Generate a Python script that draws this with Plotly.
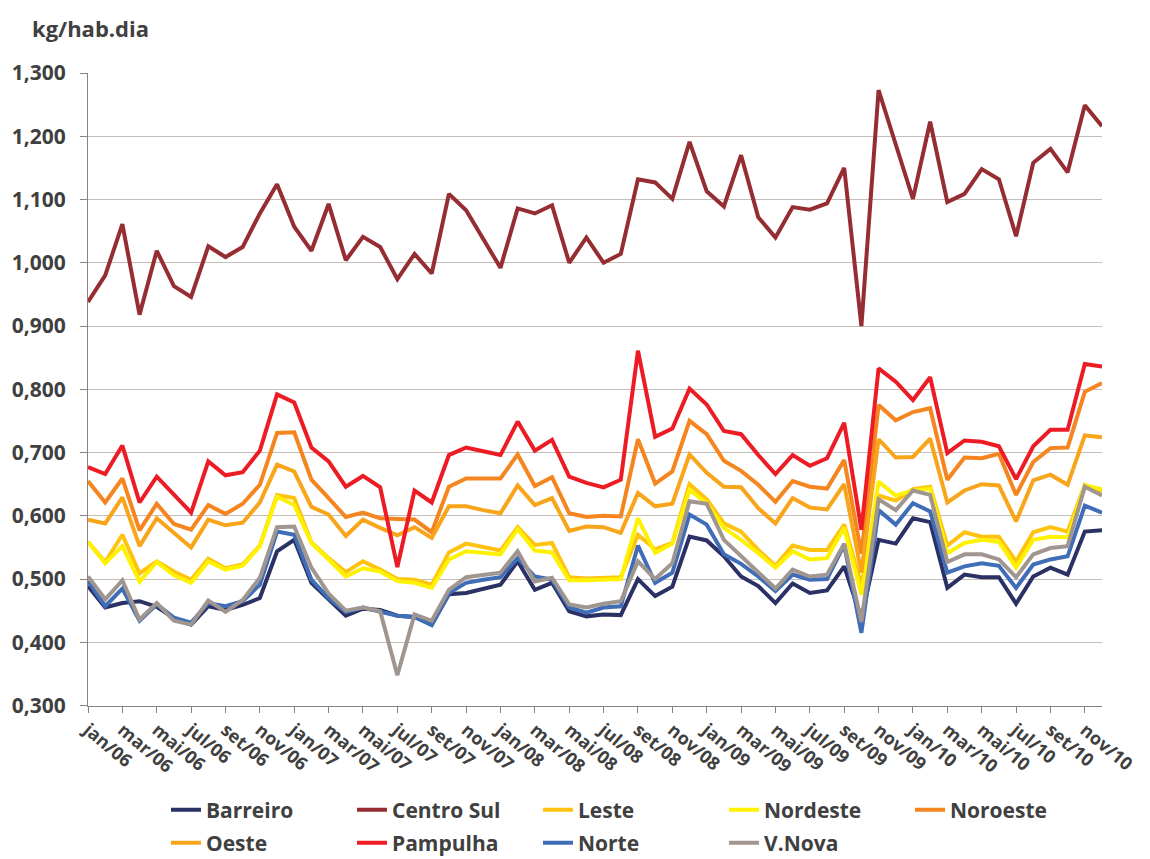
import plotly.graph_objects as go

# Monthly series, jan/2006 - dez/2010 (kg/hab.dia)
month_abbr = ["jan", "fev", "mar", "abr", "mai", "jun",
              "jul", "ago", "set", "out", "nov", "dez"]
years = ["06", "07", "08", "09", "10"]
months = [f"{m}/{y}" for y in years for m in month_abbr]

barreiro = [0.489, 0.455, 0.462, 0.465, 0.456, 0.438, 0.428, 0.457, 0.451, 0.459, 0.470, 0.544,
            0.562, 0.494, 0.468, 0.442, 0.453, 0.451, 0.442, 0.440, 0.428, 0.476, 0.478, 0.485,
            0.491, 0.528, 0.483, 0.494, 0.449, 0.441, 0.444, 0.443, 0.500, 0.473, 0.488, 0.567,
            0.561, 0.536, 0.504, 0.489, 0.462, 0.493, 0.478, 0.482, 0.520, 0.438, 0.562, 0.556,
            0.596, 0.590, 0.486, 0.507, 0.503, 0.503, 0.461, 0.504, 0.518, 0.507, 0.575, 0.577]

centro_sul = [0.938, 0.980, 1.061, 0.918, 1.019, 0.963, 0.946, 1.026, 1.009, 1.025, 1.078, 1.124,
              1.057, 1.019, 1.093, 1.004, 1.041, 1.025, 0.974, 1.014, 0.983, 1.109, 1.083, 1.037,
              0.992, 1.086, 1.078, 1.091, 1.000, 1.040, 1.000, 1.014, 1.132, 1.127, 1.101, 1.191,
              1.113, 1.089, 1.170, 1.072, 1.040, 1.088, 1.084, 1.094, 1.150, 0.900, 1.273, 1.187,
              1.101, 1.223, 1.096, 1.109, 1.148, 1.132, 1.042, 1.158, 1.180, 1.143, 1.249, 1.216]

leste = [0.559, 0.527, 0.570, 0.509, 0.528, 0.512, 0.499, 0.532, 0.517, 0.523, 0.553, 0.633,
         0.628, 0.558, 0.533, 0.511, 0.528, 0.515, 0.500, 0.499, 0.491, 0.542, 0.556, 0.550,
         0.545, 0.582, 0.554, 0.557, 0.503, 0.501, 0.502, 0.503, 0.570, 0.547, 0.557, 0.650,
         0.626, 0.588, 0.575, 0.546, 0.521, 0.553, 0.546, 0.546, 0.586, 0.490, 0.632, 0.624,
         0.642, 0.646, 0.553, 0.574, 0.567, 0.567, 0.528, 0.574, 0.582, 0.575, 0.649, 0.638]

nordeste = [0.559, 0.525, 0.552, 0.496, 0.527, 0.506, 0.494, 0.528, 0.515, 0.521, 0.552, 0.630,
            0.617, 0.557, 0.531, 0.504, 0.517, 0.512, 0.497, 0.494, 0.486, 0.531, 0.544, 0.542,
            0.539, 0.579, 0.545, 0.542, 0.498, 0.498, 0.499, 0.500, 0.596, 0.541, 0.556, 0.641,
            0.620, 0.581, 0.562, 0.541, 0.518, 0.544, 0.531, 0.533, 0.581, 0.475, 0.654, 0.632,
            0.640, 0.643, 0.541, 0.557, 0.562, 0.559, 0.518, 0.562, 0.567, 0.566, 0.648, 0.642]

noroeste = [0.655, 0.621, 0.659, 0.577, 0.619, 0.587, 0.578, 0.617, 0.603, 0.619, 0.649, 0.731,
            0.732, 0.657, 0.628, 0.598, 0.605, 0.596, 0.595, 0.594, 0.574, 0.646, 0.659, 0.659,
            0.659, 0.697, 0.647, 0.661, 0.604, 0.598, 0.600, 0.599, 0.721, 0.651, 0.670, 0.750,
            0.729, 0.687, 0.671, 0.649, 0.622, 0.655, 0.646, 0.643, 0.688, 0.540, 0.775, 0.751,
            0.764, 0.770, 0.657, 0.692, 0.691, 0.698, 0.633, 0.685, 0.707, 0.708, 0.796, 0.810]

oeste = [0.594, 0.588, 0.629, 0.552, 0.596, 0.573, 0.550, 0.594, 0.585, 0.589, 0.621, 0.681,
         0.670, 0.614, 0.602, 0.568, 0.594, 0.581, 0.569, 0.582, 0.565, 0.615, 0.615, 0.609,
         0.604, 0.648, 0.617, 0.628, 0.576, 0.583, 0.582, 0.573, 0.636, 0.615, 0.619, 0.697,
         0.668, 0.646, 0.645, 0.612, 0.588, 0.628, 0.613, 0.610, 0.650, 0.510, 0.721, 0.692,
         0.693, 0.722, 0.621, 0.640, 0.650, 0.648, 0.591, 0.656, 0.665, 0.649, 0.727, 0.724]

pampulha = [0.677, 0.666, 0.711, 0.621, 0.662, 0.634, 0.605, 0.686, 0.664, 0.669, 0.703, 0.792,
            0.779, 0.708, 0.686, 0.646, 0.663, 0.645, 0.519, 0.640, 0.621, 0.696, 0.708, 0.702,
            0.696, 0.749, 0.703, 0.720, 0.662, 0.652, 0.645, 0.657, 0.861, 0.725, 0.738, 0.801,
            0.776, 0.734, 0.729, 0.696, 0.666, 0.696, 0.679, 0.691, 0.747, 0.578, 0.833, 0.812,
            0.783, 0.819, 0.699, 0.719, 0.717, 0.710, 0.658, 0.710, 0.736, 0.736, 0.840, 0.836]

norte = [0.497, 0.457, 0.485, 0.434, 0.460, 0.439, 0.431, 0.462, 0.457, 0.465, 0.491, 0.575,
         0.570, 0.499, 0.470, 0.448, 0.455, 0.449, 0.442, 0.440, 0.427, 0.478, 0.494, 0.499,
         0.503, 0.533, 0.504, 0.499, 0.455, 0.447, 0.455, 0.457, 0.553, 0.494, 0.510, 0.602,
         0.586, 0.539, 0.524, 0.504, 0.481, 0.507, 0.499, 0.500, 0.554, 0.415, 0.609, 0.586,
         0.620, 0.607, 0.510, 0.520, 0.525, 0.521, 0.486, 0.523, 0.531, 0.536, 0.616, 0.605]

v_nova = [0.504, 0.468, 0.498, 0.436, 0.462, 0.434, 0.428, 0.466, 0.448, 0.467, 0.502, 0.582,
          0.583, 0.518, 0.477, 0.450, 0.455, 0.449, 0.348, 0.444, 0.434, 0.483, 0.503, 0.507,
          0.510, 0.544, 0.496, 0.502, 0.460, 0.455, 0.461, 0.465, 0.528, 0.500, 0.525, 0.623,
          0.619, 0.562, 0.536, 0.512, 0.485, 0.515, 0.504, 0.507, 0.556, 0.432, 0.626, 0.609,
          0.640, 0.633, 0.527, 0.539, 0.539, 0.531, 0.503, 0.539, 0.549, 0.552, 0.646, 0.632]

series = [
    ("Barreiro", barreiro, "#2B3165", "legend"),
    ("Centro Sul", centro_sul, "#962D33", "legend"),
    ("Leste", leste, "#FFC20E", "legend"),
    ("Nordeste", nordeste, "#FFF200", "legend"),
    ("Noroeste", noroeste, "#F5851F", "legend"),
    ("Oeste", oeste, "#F9A51B", "legend2"),
    ("Pampulha", pampulha, "#ED1C24", "legend2"),
    ("Norte", norte, "#3F6DB8", "legend2"),
    ("V.Nova", v_nova, "#A0958F", "legend2"),
]

TEXT = "#404040"
FONT = "Open Sans"

fig = go.Figure()
for name, values, color, leg in series:
    fig.add_trace(go.Scatter(
        x=months, y=values, name=name, mode="lines",
        line=dict(color=color, width=4),
        legend=leg,
    ))

W, H = 1150, 859
ML, MR, MT, MB = 88, 40, 73, 153

legend_common = dict(
    orientation="h",
    xref="container", yref="container",
    xanchor="left", yanchor="middle",
    entrywidth=141, entrywidthmode="pixels",
    font=dict(family=FONT, size=21, color=TEXT, weight="bold"),
    bgcolor="rgba(0,0,0,0)",
    itemwidth=30,
)

fig.update_layout(
    width=W, height=H,
    margin=dict(l=ML, r=MR, t=MT, b=MB),
    paper_bgcolor="white", plot_bgcolor="white",
    separators=",.",
    showlegend=True,
    legend=dict(legend_common, x=166 / W, y=1 - 810 / H),
    legend2=dict(legend_common, x=166 / W, y=1 - 843 / H),
    xaxis=dict(
        type="category",
        range=[0, len(months) - 1],
        tickmode="array",
        tickvals=months[::2],
        ticktext=months[::2],
        tickangle=40,
        ticks="outside", ticklen=6, tickcolor="#8C8282",
        showline=True, linecolor="#8C8282", linewidth=1,
        showgrid=False, zeroline=False,
        tickfont=dict(family=FONT, size=18, color=TEXT, weight="bold"),
    ),
    yaxis=dict(
        range=[0.3, 1.3],
        tick0=0.3, dtick=0.1,
        tickformat=".3f",
        ticks="outside", ticklen=7, tickcolor="#8C8282",
        ticklabelstandoff=10,
        showline=True, linecolor="#8C8282", linewidth=1,
        showgrid=True, gridcolor="#C4BDBA", gridwidth=1,
        zeroline=False,
        tickfont=dict(family=FONT, size=21, color=TEXT, weight="bold"),
    ),
    annotations=[dict(
        text="kg/hab.dia",
        xref="paper", yref="paper",
        x=(30 - ML) / (W - ML - MR), y=1 + (MT - 28) / (H - MT - MB),
        xanchor="left", yanchor="middle",
        showarrow=False,
        font=dict(family=FONT, size=22, color=TEXT, weight="bold"),
    )],
)

fig.write_html("out.html")
